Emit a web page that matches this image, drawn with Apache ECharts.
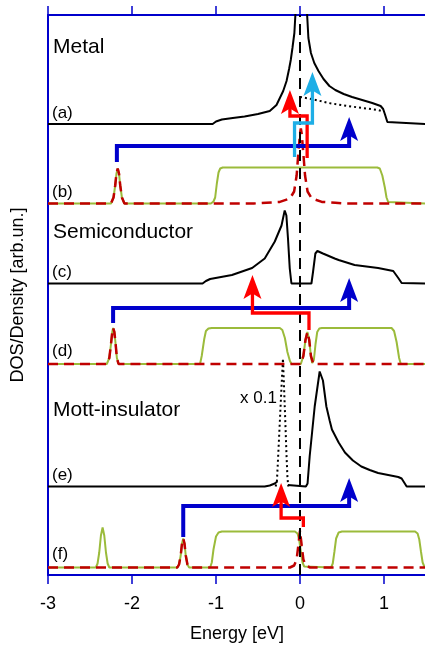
<!DOCTYPE html>
<html>
<head>
<meta charset="utf-8">
<script src="https://cdn.jsdelivr.net/npm/echarts@6.0.0/dist/echarts.min.js"></script>
<style>
  html, body { margin: 0; padding: 0; background: #fff; }
  #chart { width: 425px; height: 646px; }
</style>
</head>
<body>
<div id="chart"></div>
<script>
// energy axis
const xMin = -3;
const xMax = 1.5;
const xTicks = [-3, -2, -1, 0, 1];

// baseline of each panel (a)..(f) on the density axis (arb. units)
const baselines = [451, 371.5, 291.5, 211, 88.5, 7.5];
const panelLabels = ["(a)", "(b)", "(c)", "(d)", "(e)", "(f)"];
const titles = ["Metal", "Semiconductor", "Mott-insulator"];

// (a) metal DOS, relative to its baseline
const dosA = [[-3,0],[-1.04,0],[-1.0,2.5],[-0.93,4.5],[-0.8,6],[-0.66,7.5],[-0.5,10],[-0.36,13],[-0.28,19],
  [-0.2,33],[-0.16,43],[-0.13,55],[-0.11,64],[-0.09,76],[-0.067,91],[-0.055,109],[-0.03,150],[0.015,175],
  [0.06,150],[0.085,109],[0.1,86],[0.13,71],[0.17,61],[0.22,53],[0.28,45],[0.35,38],[0.42,34],[0.52,30],
  [0.62,27],[0.74,24],[0.86,21],[0.96,18],[0.99,15],[1.01,10],[1.04,2],[1.06,0],[1.5,0]];
const dosADotted = [[0,27],[0.14,25],[0.34,21],[0.61,17.5],[0.93,14],[0.99,12.5]];

// (b) metal densities: green and red dashed
const greenB = [[-3,0],[-2.25,0],[-2.22,6],[-2.2,18],[-2.185,30],[-2.17,35],[-2.155,30],[-2.14,18],[-2.12,6],
  [-2.09,0],[-1.06,0],[-1.03,2],[-1.01,6],[-0.99,20],[-0.97,31],[-0.95,35],[-0.92,36],[0.92,36],[0.95,35],
  [0.98,28],[1.01,16],[1.03,6],[1.05,1.5],[1.07,0],[1.5,0]];
const redB = [[-3,0],[-2.25,0],[-2.22,6],[-2.2,18],[-2.185,30],[-2.17,35],[-2.155,30],[-2.14,18],[-2.12,6],
  [-2.09,0],[-0.55,0],[-0.4,0.8],[-0.24,1.6],[-0.12,5],[-0.07,12],[-0.04,28],[-0.02,50],[0,70],[0.01,75],
  [0.02,70],[0.04,50],[0.06,28],[0.09,12],[0.14,5],[0.26,1.6],[0.42,0.8],[0.55,0],[1.5,0]];

// (c) semiconductor DOS
const dosC = [[-3,0],[-1.16,0],[-1.12,2.5],[-1.07,4.5],[-0.81,8.5],[-0.57,15.5],[-0.42,25],[-0.3,42],
  [-0.22,58],[-0.2,66],[-0.182,73],[-0.162,68],[-0.143,45],[-0.122,15],[-0.102,0],[0.136,0],[0.155,11.5],
  [0.183,30],[0.207,32.5],[0.273,30],[0.413,25],[0.46,23.5],[0.65,18.5],[0.93,15.5],[1.11,12.5],
  [1.17,5.5],[1.21,0.5],[1.23,0],[1.5,0]];

// (d) semiconductor densities
const greenD = [[-3,0],[-2.3,0],[-2.27,6],[-2.25,20],[-2.235,32],[-2.225,36],[-2.21,32],[-2.195,20],
  [-2.18,6],[-2.16,0],[-1.19,0],[-1.17,8],[-1.14,25],[-1.12,33],[-1.09,35.5],[-1.05,36],[-0.24,36],
  [-0.21,34],[-0.18,26],[-0.15,12],[-0.12,3],[-0.1,0],[0.01,0],[0.04,8],[0.065,24],[0.088,32],[0.11,24],
  [0.13,8],[0.145,1],[0.165,4],[0.185,20],[0.205,32],[0.23,35.5],[0.26,36],[1.09,36],[1.12,33],[1.15,22],
  [1.18,6],[1.2,0],[1.5,0]];
const redD = [[-3,0],[-2.3,0],[-2.27,6],[-2.25,20],[-2.235,32],[-2.225,36],[-2.21,32],[-2.195,20],
  [-2.18,6],[-2.16,0],[0.01,0],[0.04,8],[0.065,24],[0.088,32],[0.11,24],[0.13,8],[0.16,0],[1.5,0]];

// (e) Mott-insulator DOS (solid) and occupied peak x 0.1 (dotted)
const dosE = [[-3,0],[-0.42,0],[-0.36,1],[-0.3,3],[-0.27,5],[-0.2,null],[-0.145,1.5],[-0.13,0],[0.07,0],
  [0.09,3],[0.115,30],[0.145,55],[0.175,80],[0.234,115],[0.273,106],[0.314,80],[0.353,66],[0.38,57],
  [0.46,44],[0.535,34],[0.63,26],[0.73,20],[0.83,16.5],[0.93,13.5],[1.05,11.5],[1.17,9.5],[1.21,8],
  [1.24,4],[1.27,0],[1.5,0]];
const dosEDotted = [[-0.29,0],[-0.275,5],[-0.26,30],[-0.24,65],[-0.22,100],[-0.203,128],[-0.19,100],
  [-0.175,65],[-0.16,30],[-0.15,10],[-0.14,0]];

// (f) Mott-insulator densities
const greenF = [[-3,0],[-2.43,0],[-2.41,4],[-2.39,15],[-2.37,32],[-2.35,40],[-2.33,32],[-2.31,15],[-2.29,4],
  [-2.27,0],[-1.46,0],[-1.44,3],[-1.42,12],[-1.405,24],[-1.39,29],[-1.375,24],[-1.36,12],[-1.34,3],[-1.32,0],
  [-1.07,0],[-1.05,5],[-1.03,18],[-1.0,31],[-0.97,35],[-0.93,36],[-0.06,36],[-0.03,34],[-0.01,28],
  [0.01,16],[0.03,5],[0.05,1],[0.07,0],[0.37,0],[0.39,4],[0.41,16],[0.43,29],[0.46,35],[0.5,36],
  [1.37,36],[1.4,34],[1.42,28],[1.44,16],[1.46,5],[1.48,1],[1.5,0]];
const redF = [[-3,0],[-1.46,0],[-1.44,3],[-1.42,12],[-1.405,24],[-1.39,29],[-1.375,24],[-1.36,12],
  [-1.34,3],[-1.32,0],[-0.12,0],[-0.07,2],[-0.04,8],[-0.02,22],[0,37],[0.02,22],[0.04,8],[0.07,2],
  [0.12,0],[1.5,0]];

// transition arrows (absolute density units), last point = arrow tip
const redArrowA = [[0.085,417],[0.085,459],[-0.12,459],[-0.12,485]];
const cyanArrowA = [[-0.065,418],[-0.065,452],[0.148,452],[0.148,503]];
const blueArrowA = [[-2.18,413],[-2.18,429],[0.585,429],[0.585,458]];
const redArrowC = [[0.107,245],[0.107,262],[-0.566,262],[-0.566,300]];
const blueArrowC = [[-2.225,252],[-2.225,267],[0.585,267],[0.585,297]];
const redArrowE = [[0.04,48],[0.04,57],[-0.225,57],[-0.225,92]];
const blueArrowE = [[-1.39,38],[-1.39,69],[0.585,69],[0.585,97]];

const BLUE = "#0000cc";
const RED = "#ff0000";
const CYAN = "#1eaee6";
const GREEN = "#9bbb3b";
const DARKRED = "#c00000";
const FONT = "Liberation Sans, Arial, sans-serif";

function shift(points, base) {
  return points.map((p) => [p[0], p[1] == null ? null : p[1] + base]);
}

function curve(points, base, color, width, type) {
  return {
    type: "line",
    data: shift(points, base),
    showSymbol: false,
    symbol: "none",
    smooth: false,
    silent: true,
    lineStyle: { color: color, width: width, type: type || "solid" },
    z: 2,
  };
}

const series = [
  curve(greenB, baselines[1], GREEN, 2),
  curve(greenD, baselines[3], GREEN, 2),
  curve(greenF, baselines[5], GREEN, 2),
  curve(dosA, baselines[0], "#000", 2),
  curve(dosC, baselines[2], "#000", 2),
  curve(dosE, baselines[4], "#000", 2),
  curve(dosADotted, baselines[0], "#000", 2, [2, 3]),
  curve(dosEDotted, baselines[4], "#000", 2, [2, 3]),
  curve(redB, baselines[1], DARKRED, 2.5, [10, 6]),
  curve(redD, baselines[3], DARKRED, 2.5, [10, 6]),
  curve(redF, baselines[5], DARKRED, 2.5, [10, 6]),
];

// Fermi level
series.push({
  type: "line",
  data: [],
  markLine: {
    silent: true,
    symbol: "none",
    label: { show: false },
    lineStyle: { color: "#000", width: 2, type: [11, 7] },
    data: [{ xAxis: 0 }],
  },
  z: 3,
});

const arrows = [
  { path: blueArrowA, color: BLUE, width: 4 },
  { path: redArrowA, color: RED, width: 3.3 },
  { path: cyanArrowA, color: CYAN, width: 3.3 },
  { path: blueArrowC, color: BLUE, width: 4 },
  { path: redArrowC, color: RED, width: 3.3 },
  { path: blueArrowE, color: BLUE, width: 4 },
  { path: redArrowE, color: RED, width: 3.3 },
];

const headPath = "path://M8,0L17,24L8,18.5L-1,24Z";

arrows.forEach((a) => {
  const tip = a.path[a.path.length - 1];
  const shaft = a.path.slice(0, -1).concat([[tip[0], tip[1] - 10]]);
  series.push({
    type: "line",
    data: shaft,
    showSymbol: false,
    symbol: "none",
    silent: true,
    lineStyle: { color: a.color, width: a.width, join: "miter", cap: "butt" },
    z: 5,
  });
  series.push({
    type: "scatter",
    data: [tip],
    symbol: headPath,
    symbolSize: [18, 24],
    symbolOffset: [0, "50%"],
    silent: true,
    itemStyle: { color: a.color, borderWidth: 0, opacity: 1 },
    z: 6,
  });
});

const graphic = [];
const titleY = [47, 232, 410];
titles.forEach((t, i) => {
  graphic.push({
    type: "text", x: 53, y: titleY[i], silent: true,
    style: { text: t, fill: "#000", font: "21px " + FONT, textVerticalAlign: "middle" },
  });
});
const labelY = [113, 192, 272, 351, 475, 554];
panelLabels.forEach((t, i) => {
  graphic.push({
    type: "text", x: 52, y: labelY[i], silent: true,
    style: { text: t, fill: "#000", font: "17px " + FONT, textVerticalAlign: "middle" },
  });
});
graphic.push({
  type: "text", x: 240, y: 398, silent: true,
  style: { text: "x 0.1", fill: "#000", font: "17px " + FONT, textVerticalAlign: "middle" },
});

const axisCommon = {
  type: "value",
  min: xMin,
  max: xMax,
  interval: 1,
  axisLine: { onZero: false, lineStyle: { color: BLUE, width: 2 } },
  axisTick: { inside: false, length: 9, lineStyle: { color: BLUE, width: 1.5 } },
  splitLine: { show: false },
};

const chart = echarts.init(document.getElementById("chart"));
chart.setOption({
  animation: false,
  grid: { left: 48, top: 15, width: 378, bottom: 71, outerBoundsMode: "none", containLabel: false },
  xAxis: [
    Object.assign({}, axisCommon, {
      position: "bottom",
      name: "Energy [eV]",
      nameLocation: "middle",
      nameGap: 50,
      nameTextStyle: { color: "#000", fontSize: 18, fontFamily: FONT },
      axisLabel: {
        color: "#000",
        fontSize: 18,
        fontFamily: FONT,
        margin: 20,
        formatter: (v) => (xTicks.includes(v) ? String(v) : ""),
      },
    }),
    Object.assign({}, axisCommon, {
      position: "top",
      axisLabel: { show: false },
    }),
  ],
  yAxis: {
    type: "value",
    min: 0,
    max: 560,
    name: "DOS/Density [arb.un.]",
    nameLocation: "middle",
    nameGap: 21,
    nameTextStyle: { color: "#000", fontSize: 18, fontFamily: FONT },
    axisLine: { show: true, onZero: false, lineStyle: { color: BLUE, width: 2 } },
    axisTick: { show: false },
    axisLabel: { show: false },
    splitLine: { show: false },
  },
  graphic: graphic,
  series: series,
});
</script>
</body>
</html>
